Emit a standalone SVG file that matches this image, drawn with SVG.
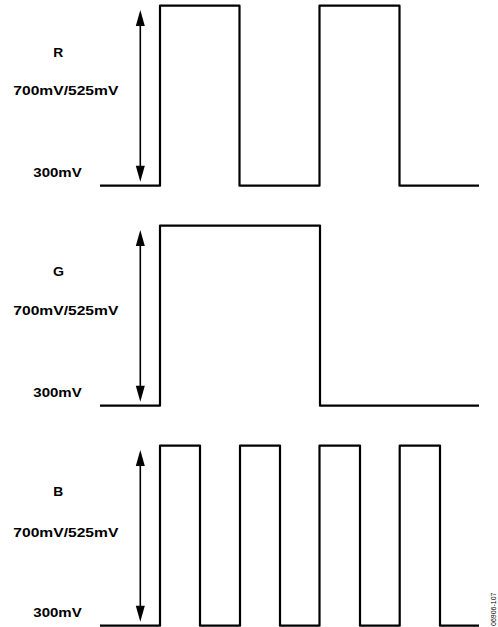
<svg xmlns="http://www.w3.org/2000/svg" width="498" height="627" viewBox="0 0 498 627">
<defs>
<style>
.w{fill:none;stroke:#000;stroke-width:2.2;stroke-linejoin:round}
.a{fill:none;stroke:#000;stroke-width:1.6}
.ah{fill:#000;stroke:none}
.t{font-family:"Liberation Sans",Arial,sans-serif;font-weight:bold;font-size:13px;fill:#000}
.n{font-family:"Liberation Sans",Arial,sans-serif;font-size:7px;fill:#000}
</style>
<g id="arrow">
<line class="a" x1="140.3" y1="20" x2="140.3" y2="172"/>
<polygon class="ah" points="140.3,10 135.8,26 144.8,26"/>
<polygon class="ah" points="140.3,181.7 135.8,165.7 144.8,165.7"/>
</g>
</defs>
<rect width="498" height="627" fill="#fff"/>
<g id="panel-R">
<text class="t" x="53.3" y="56.7" textLength="10" lengthAdjust="spacingAndGlyphs">R</text>
<text class="t" x="13.3" y="95" textLength="105" lengthAdjust="spacingAndGlyphs">700mV/525mV</text>
<text class="t" x="33.3" y="176.7" textLength="48.4" lengthAdjust="spacingAndGlyphs">300mV</text>
</g>
<g id="panel-G">
<text class="t" x="53" y="276" textLength="11" lengthAdjust="spacingAndGlyphs">G</text>
<text class="t" x="13.3" y="315" textLength="105" lengthAdjust="spacingAndGlyphs">700mV/525mV</text>
<text class="t" x="33.3" y="396.7" textLength="48.4" lengthAdjust="spacingAndGlyphs">300mV</text>
</g>
<g id="panel-B">
<text class="t" x="53.3" y="496" textLength="10" lengthAdjust="spacingAndGlyphs">B</text>
<text class="t" x="13.3" y="536.7" textLength="105" lengthAdjust="spacingAndGlyphs">700mV/525mV</text>
<text class="t" x="33.3" y="616.7" textLength="48.4" lengthAdjust="spacingAndGlyphs">300mV</text>
</g>
<g id="connectors">
<use href="#arrow"/>
<use href="#arrow" y="220"/>
<use href="#arrow" y="440"/>
<polyline class="w" points="100,185.7 160,185.7 160,5.7 239.5,5.7 239.5,185.7 319.5,185.7 319.5,5.7 399.5,5.7 399.5,185.7 479,185.7"/>
<polyline class="w" points="100,405.7 160,405.7 160,225.7 320,225.7 320,405.7 479,405.7"/>
<polyline class="w" points="100,625.7 160,625.7 160,445.7 200,445.7 200,625.7 240,625.7 240,445.7 280,445.7 280,625.7 319.5,625.7 319.5,445.7 360,445.7 360,625.7 399.7,625.7 399.7,445.7 440,445.7 440,625.7 479,625.7"/>
</g>
<text class="n" transform="translate(496,626) rotate(-90)">06906-107</text>
</svg>
